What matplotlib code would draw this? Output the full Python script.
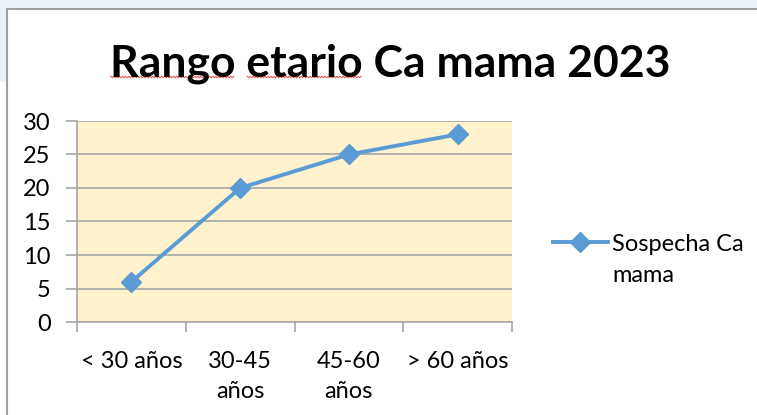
import numpy as np
import matplotlib
matplotlib.use("Agg")
import matplotlib.pyplot as plt
from matplotlib.patches import Rectangle
from matplotlib.lines import Line2D

categories = ["< 30 años", "30-45\naños", "45-60\naños", "> 60 años"]
values = [6, 20, 25, 28]
series_name = ["Sospecha Ca", "mama"]
title = "Rango etario Ca mama 2023"
yticks = [0, 5, 10, 15, 20, 25, 30]

plt.rcParams["font.family"] = ["Lato", "DejaVu Sans"]

W, H = 757, 415
fig = plt.figure(figsize=(W / 100, H / 100), dpi=100)
fig.patch.set_facecolor("white")

# window background strip and chart frame
fig.add_artist(Rectangle((0, 1 - 9 / H), 1, 9 / H, transform=fig.transFigure,
                         facecolor="#EAF2FA", edgecolor="none", zorder=0))
fig.add_artist(Rectangle((0, 1 - 82 / H), 6 / W, 82 / H, transform=fig.transFigure,
                         facecolor="#EAF2FA", edgecolor="none", zorder=0))
fig.add_artist(Line2D([7 / W, 7 / W, 1], [0, 1 - 9 / H, 1 - 9 / H], transform=fig.transFigure,
                      color="#A0A0A0", lw=1.5, zorder=1))

ax = fig.add_axes([77 / W, 93 / H, (512 - 77) / W, (322 - 121) / H])
ax.set_facecolor("#FFF2CC")

x = range(len(values))
ax.plot(x, values, color="#5B9BD5", lw=2.8, marker="D", markersize=10,
        markeredgecolor="#5B9BD5", markerfacecolor="#5B9BD5", zorder=3)

ax.set_xlim(-0.5, len(values) - 0.5)
ax.set_ylim(0, 30)
ax.set_yticks(yticks)
ax.set_yticklabels([str(v) for v in yticks], fontsize=17)
ax.yaxis.grid(True, color="#A6A6A6", lw=1.2)
ax.set_axisbelow(True)

ax.set_xticks([i + 0.5 for i in range(-1, len(values))])
ax.set_xticklabels([])
ax.set_xticks(list(x), minor=True)
ax.set_xticklabels(categories, minor=True, fontsize=17, linespacing=1.5)
ax.tick_params(axis="x", which="minor", length=0, pad=21)
ax.tick_params(axis="x", which="major", length=7, color="#A6A6A6", width=1.2)
ax.tick_params(axis="y", length=8, color="#A6A6A6", width=1.2, pad=11)
for lab in ax.get_xticklabels(minor=True):
    lab.set_verticalalignment("top")

for side in ["top", "right"]:
    ax.spines[side].set_visible(False)
for side in ["left", "bottom"]:
    ax.spines[side].set_color("#A6A6A6")
    ax.spines[side].set_linewidth(1.2)

title_txt = fig.text(390 / W, 1 - 76 / H, title, ha="center", va="baseline",
                     fontsize=32, fontweight="bold")

# legend label wraps onto a second line; the handle sits on the first line
handle = Line2D([], [], color="#5B9BD5", lw=2.8, marker="D", markersize=10)
blank = Line2D([], [], color="none")
fig.legend([handle, blank], series_name, loc="center left",
           bbox_to_anchor=(532 / W, 1 - 260 / H), frameon=False, fontsize=17,
           handlelength=2.3, handletextpad=0.2, labelspacing=0.45)

# spell-check squiggle under the first two words of the title
fig.canvas.draw()
renderer = fig.canvas.get_renderer()
bb = title_txt.get_window_extent(renderer)


def word_width(s):
    t = fig.text(0, 0, s, fontsize=32, fontweight="bold")
    w = t.get_window_extent(renderer).width
    t.remove()
    return w


space = word_width("Rango etario") - word_width("Rango") - word_width("etario")
x0 = bb.x0
spans = [(x0, x0 + word_width("Rango")),
         (x0 + word_width("Rango") + space, x0 + word_width("Rango etario"))]
y_sq = H - 77
for a, b in spans:
    xs = np.arange(a + 1, b, 1.5)
    ys = y_sq + np.where(np.arange(len(xs)) % 2 == 0, 0.8, -0.8)
    fig.add_artist(Line2D(xs / W, ys / H, transform=fig.transFigure,
                          color="#E05050", lw=0.7))

fig.savefig("out.png", dpi=100)
